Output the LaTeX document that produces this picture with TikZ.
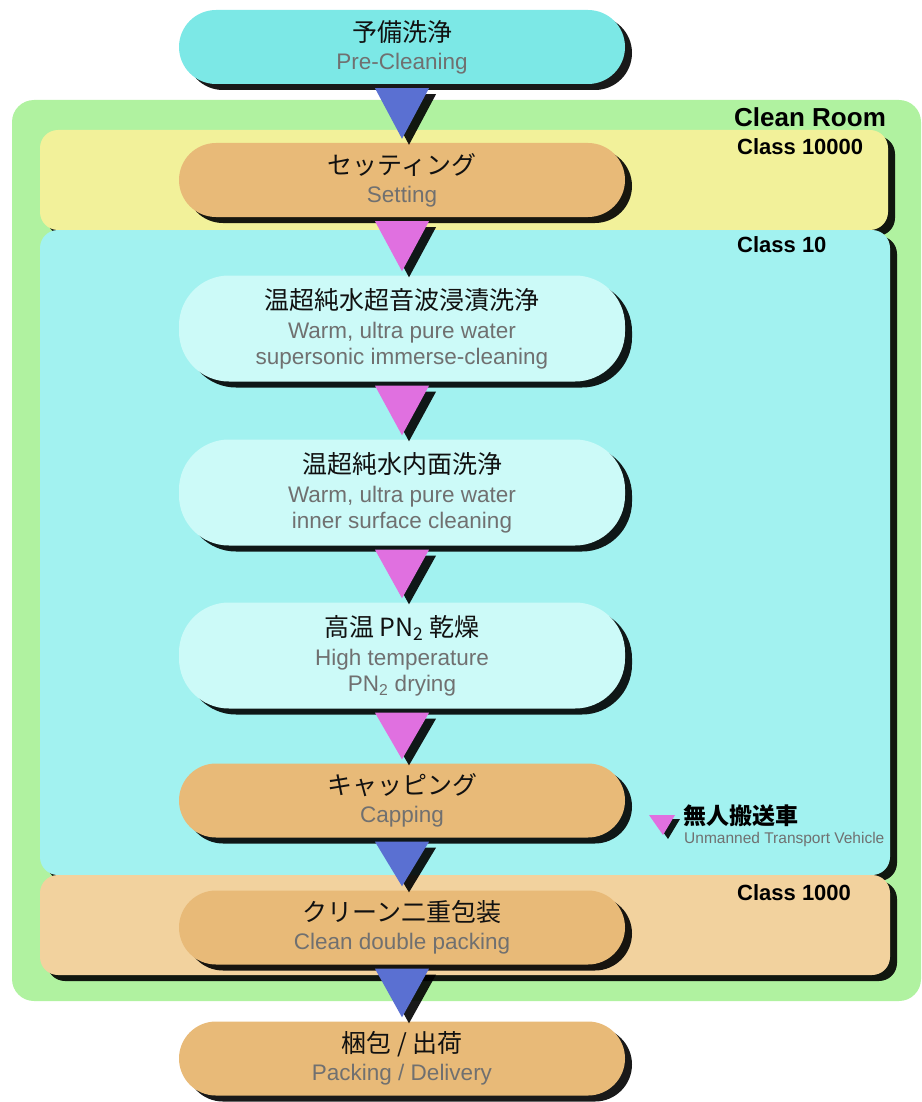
\documentclass[tikz,border=0pt]{standalone}
\usepackage{fontspec}
\setmainfont{Liberation Sans}
\newfontfamily\jpf{Noto Sans CJK JP}
\usetikzlibrary{shadows,calc}
\definecolor{precyan}{HTML}{7CE8E6}
\definecolor{roomgreen}{HTML}{B0F2A0}
\definecolor{cyellow}{HTML}{F2F19A}
\definecolor{ccyan}{HTML}{A2F2F0}
\definecolor{cpeach}{HTML}{F2D29E}
\definecolor{pillorange}{HTML}{E8BA78}
\definecolor{pilllight}{HTML}{CCFAF8}
\definecolor{triblue}{HTML}{5A70D2}
\definecolor{tripink}{HTML}{E070E0}
\definecolor{txtgray}{HTML}{707070}
\definecolor{jptext}{HTML}{111111}
\newcommand\JPline[1]{{\jpf\fontsize{25}{26}\selectfont\color{jptext}#1}}
\newcommand\flowtri[3]{\fill[fill=#1, shad] ($(#2.south)+(-27,4)$) -- ($(#2.south)+(27,4)$) -- ($(#3.north)+(0,-4)$) -- cycle;}
\begin{document}
\begin{tikzpicture}[x=1pt,y=-1pt,
  shad/.style={drop shadow={shadow xshift=7pt, shadow yshift=-6pt, fill=black, opacity=0.9}},
  pill/.style={shape=rectangle, rounded corners=37pt, minimum width=446pt, minimum height=74pt,
    align=center, inner sep=0pt, font=\fontsize{22.5}{26}\selectfont, text=txtgray, shad},
  tall/.style={minimum height=106pt, rounded corners=50pt},
  zone/.style={rounded corners=18pt, shad},
  classlbl/.style={anchor=west, font=\bfseries\fontsize{22}{24}\selectfont, text=black, inner sep=0pt}]
\useasboundingbox (0,0) rectangle (921,1102);
% zones
\fill[roomgreen, rounded corners=22pt] (12,100) rectangle (921,1001);
\fill[cyellow, zone] (40,130) rectangle (888,230);
\fill[ccyan, zone] (40,230) rectangle (890,875);
\fill[cpeach, zone] (40,875) rectangle (890,975);
\node[anchor=west, font=\bfseries\fontsize{26}{28}\selectfont, inner sep=0pt] (room) at (734,117) {Clean Room};
\node[classlbl] (c10000) at (737,147) {Class 10000};
\node[classlbl] (c10) at (737,245) {Class 10};
\node[classlbl] (c1000) at (737,893) {Class 1000};
% process steps
\node[pill, fill=precyan] (pre) at (402,47) {\JPline{予備洗浄}\\[2pt]Pre-Cleaning};
\node[pill, fill=pillorange] (set) at (402,180) {\JPline{セッティング}\\[2pt]Setting};
\node[pill, tall, fill=pilllight] (imm) at (402,328.5) {\JPline{温超純水超音波浸漬洗浄}\\[3pt]Warm, ultra pure water\\supersonic immerse-cleaning};
\node[pill, tall, fill=pilllight] (inner) at (402,492.5) {\JPline{温超純水内面洗浄}\\[3pt]Warm, ultra pure water\\inner surface cleaning};
\node[pill, tall, fill=pilllight] (dry) at (402,655.5) {\JPline{高温 PN\textsubscript{2} 乾燥}\\[3pt]High temperature\\PN\textsubscript{2} drying};
\node[pill, fill=pillorange] (cap) at (402,800.5) {\JPline{キャッピング}\\[2pt]Capping};
\node[pill, fill=pillorange] (dbl) at (402,927.5) {\JPline{クリーン二重包装}\\[2pt]Clean double packing};
\node[pill, fill=pillorange] (del) at (402,1058.5) {\JPline{梱包 / 出荷}\\[2pt]Packing / Delivery};
% connectors
\flowtri{triblue}{pre}{set}
\flowtri{tripink}{set}{imm}
\flowtri{tripink}{imm}{inner}
\flowtri{tripink}{inner}{dry}
\flowtri{tripink}{dry}{cap}
\flowtri{triblue}{cap}{dbl}
\flowtri{triblue}{dbl}{del}
% legend
\fill[tripink, drop shadow={shadow xshift=5pt, shadow yshift=-4pt, fill=black, opacity=0.9}] (649,815) -- (675,815) -- (663,835) -- cycle;
\node[anchor=west, inner sep=0pt, font=\jpf\bfseries\fontsize{23}{24}\selectfont] (legjp) at (683,816) {無人搬送車};
\node[anchor=west, inner sep=0pt, font=\fontsize{15.5}{16}\selectfont, text=txtgray] (legen) at (684,839) {Unmanned Transport Vehicle};
\end{tikzpicture}
\end{document}
